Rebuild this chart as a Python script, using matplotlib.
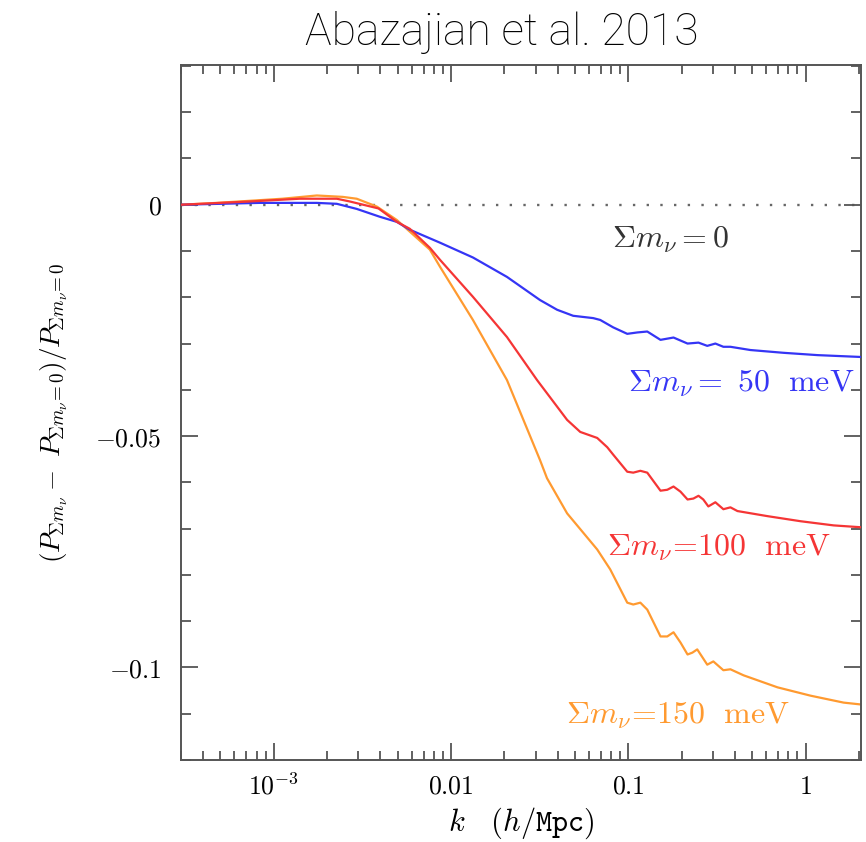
import matplotlib
matplotlib.use("Agg")
import matplotlib.pyplot as plt
from matplotlib.ticker import FixedLocator, LogLocator, MultipleLocator, NullFormatter

plt.rcParams["mathtext.fontset"] = "cm"

# Fractional change of the matter power spectrum relative to massless neutrinos
k_50 = [3.0e-4, 8.3e-4, 1.75e-3, 2.27e-3, 2.94e-3, 3.97e-3, 4.95e-3, 5.86e-3, 8.67e-3,
        0.0133, 0.0207, 0.0318, 0.0397, 0.0489, 0.0634, 0.0695, 0.0822, 0.0987, 0.1125,
        0.128, 0.152, 0.180, 0.216, 0.249, 0.279, 0.310, 0.344, 0.377, 0.489, 0.751,
        1.169, 2.05]
d_50 = [0.0, 0.0004, 0.0004, 0.0002, -0.0009, -0.0026, -0.0037, -0.0054, -0.0082,
        -0.0114, -0.0156, -0.0206, -0.0227, -0.0240, -0.0245, -0.0249, -0.0265, -0.0279,
        -0.0276, -0.0274, -0.0292, -0.0287, -0.0300, -0.0298, -0.0305, -0.0300, -0.0307,
        -0.0307, -0.0314, -0.0320, -0.0325, -0.0329]

k_100 = [3.0e-4, 7.31e-4, 1.40e-3, 2.27e-3, 2.69e-3, 3.9e-3, 4.95e-3, 5.86e-3, 7.60e-3,
         8.67e-3, 0.0133, 0.0207, 0.0306, 0.0452, 0.0536, 0.0668, 0.0761, 0.0822, 0.0987,
         0.1067, 0.117, 0.128, 0.152, 0.166, 0.180, 0.197, 0.216, 0.233, 0.249, 0.265,
         0.283, 0.310, 0.344, 0.377, 0.413, 0.610, 0.938, 1.44, 2.05]
d_100 = [0.0, 0.0007, 0.0013, 0.0013, 0.0007, -0.0008, -0.0037, -0.0052, -0.0093,
         -0.0119, -0.0199, -0.0286, -0.0379, -0.0465, -0.0491, -0.0504, -0.0524, -0.0540,
         -0.0577, -0.0579, -0.0575, -0.0579, -0.0618, -0.0616, -0.0609, -0.0620, -0.0637,
         -0.0635, -0.0629, -0.0637, -0.0652, -0.0643, -0.0658, -0.0654, -0.0662, -0.0673,
         -0.0684, -0.0693, -0.0697]

k_150 = [3.0e-4, 4.76e-4, 1.12e-3, 1.75e-3, 2.45e-3, 2.94e-3, 3.82e-3, 4.95e-3, 7.60e-3,
         8.67e-3, 0.0133, 0.0207, 0.0318, 0.0348, 0.0452, 0.0668, 0.0791, 0.0987, 0.1067,
         0.117, 0.128, 0.152, 0.166, 0.180, 0.197, 0.216, 0.230, 0.245, 0.262, 0.279,
         0.302, 0.344, 0.377, 0.447, 0.695, 1.067, 1.64, 2.05]
d_150 = [0.0, 0.0004, 0.0013, 0.0020, 0.0017, 0.0013, -0.0004, -0.0033, -0.0097,
         -0.0134, -0.0249, -0.0379, -0.0552, -0.0591, -0.0667, -0.0745, -0.0788, -0.0860,
         -0.0864, -0.0860, -0.0875, -0.0933, -0.0933, -0.0924, -0.0946, -0.0972, -0.0968,
         -0.0961, -0.0978, -0.0994, -0.0987, -0.1006, -0.1004, -0.1017, -0.1043, -0.1061,
         -0.1076, -0.1080]

x_ticks = [1e-3, 1e-2, 1e-1, 1.0]
x_ticklabels = [r"$10^{-3}$", r"$0.01$", r"$0.1$", r"$1$"]
y_ticks = [0.0, -0.05, -0.1]
y_ticklabels = [r"$0$", r"$-0.05$", r"$-0.1$"]

BLUE = "#3535f5"
RED = "#f53535"
ORANGE = "#ff9a30"
FRAME = "#555555"

fig = plt.figure(figsize=(8.66, 8.42), dpi=100)
ax = fig.add_axes([0.209, 0.0974, 0.785, 0.8254])

ax.axhline(0.0, color="#666666", lw=1.7, linestyle=(0, (1, 4.8)), zorder=1)
ax.plot(k_50, d_50, color=BLUE, lw=1.6, zorder=3, solid_joinstyle="round")
ax.plot(k_100, d_100, color=RED, lw=1.6, zorder=3, solid_joinstyle="round")
ax.plot(k_150, d_150, color=ORANGE, lw=1.6, zorder=2, solid_joinstyle="round")

ax.set_xscale("log")
ax.set_xlim(3.0e-4, 2.05)
ax.set_ylim(-0.12, 0.0302)

ax.xaxis.set_major_locator(FixedLocator(x_ticks))
ax.set_xticklabels(x_ticklabels)
ax.xaxis.set_minor_locator(LogLocator(base=10, subs=range(2, 10)))
ax.xaxis.set_minor_formatter(NullFormatter())
ax.yaxis.set_major_locator(FixedLocator(y_ticks))
ax.set_yticklabels(y_ticklabels)
ax.yaxis.set_minor_locator(MultipleLocator(0.01))

ax.tick_params(which="both", direction="in", top=True, right=True, color=FRAME,
               labelsize=18.5, width=1.3)
ax.tick_params(axis="x", which="major", length=12, pad=10)
ax.tick_params(axis="x", which="minor", length=6.5)
ax.tick_params(axis="y", which="major", length=12, pad=14)
ax.tick_params(axis="y", which="minor", length=7)
for s in ax.spines.values():
    s.set_color(FRAME)
    s.set_linewidth(1.4)

ax.set_xlabel(r"$k\ \ \ (h/\mathtt{Mpc})$", fontsize=22, labelpad=4)
ax.set_ylabel(r"$(P_{\Sigma m_\nu} - \ P_{\Sigma m_\nu\!=0})/P_{\Sigma m_\nu\!=0}$",
              fontsize=19.5, labelpad=18)

ax.text(0.0813, -0.0076, r"$\Sigma m_\nu=0$", color="#333333", fontsize=23,
        va="center", ha="left")
ax.text(0.100, -0.0385, r"$\Sigma m_\nu=\ 50\ \ {\rm meV}$", color=BLUE, fontsize=23,
        va="center", ha="left")
ax.text(0.076, -0.0740, r"$\Sigma m_\nu\!=\!100\ \ {\rm meV}$", color=RED, fontsize=23,
        va="center", ha="left")
ax.text(0.0447, -0.1104, r"$\Sigma m_\nu\!=\!150\ \ {\rm meV}$", color=ORANGE, fontsize=23,
        va="center", ha="left")

fig.text(0.58, 0.961, "Abazajian et al. 2013", ha="center", va="center",
         fontsize=32, family=["Roboto", "DejaVu Sans"], fontweight="light", color="black")

fig.savefig("out.png", dpi=100, facecolor="white")
